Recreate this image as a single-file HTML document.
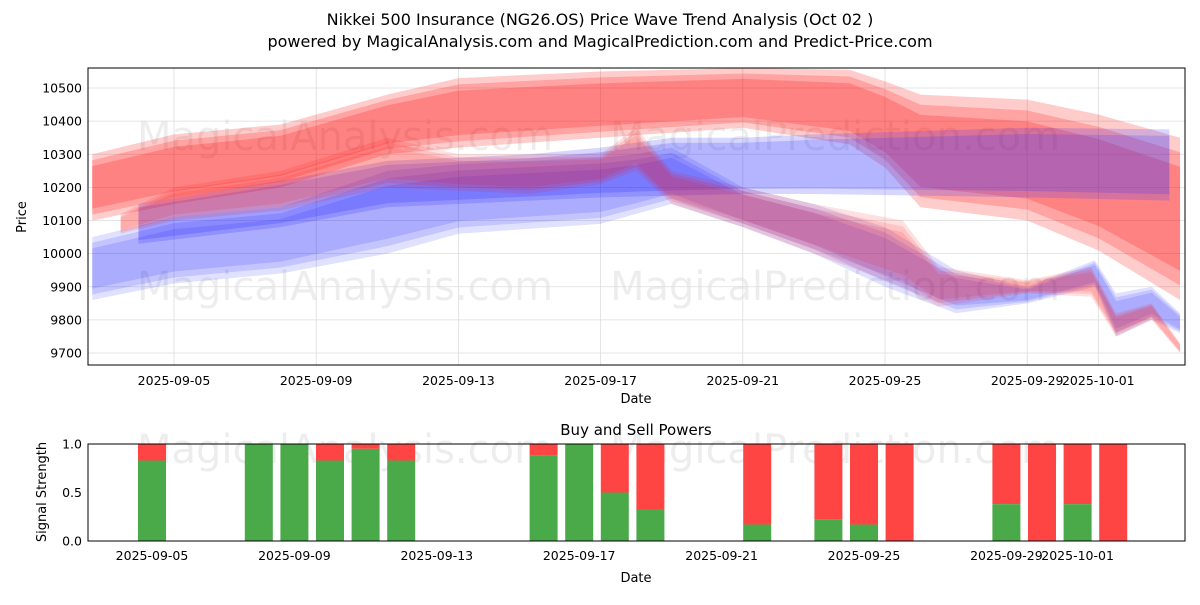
<!DOCTYPE html>
<html><head><meta charset="utf-8"><style>
body{margin:0;background:#fff;font-family:"Liberation Sans","DejaVu Sans",sans-serif;}
svg text{font-family:"DejaVu Sans","Liberation Sans",sans-serif;}
</style></head><body>
<svg id="chart" width="1200" height="600" viewBox="0 0 1200 600">
<text x="600" y="25" text-anchor="middle" font-size="16">Nikkei 500 Insurance (NG26.OS) Price Wave Trend Analysis (Oct 02 )</text>
<text x="600" y="47" text-anchor="middle" font-size="16">powered by MagicalAnalysis.com and MagicalPrediction.com and Predict-Price.com</text>
<g id="topPanel"></g>
<g id="botPanel"></g>
</svg>
<script>
// ---- data ----
const priceTicks=[9700,9800,9900,10000,10100,10200,10300,10400,10500];
const dateTicks=["2025-09-05","2025-09-09","2025-09-13","2025-09-17","2025-09-21","2025-09-25","2025-09-29","2025-10-01"];
const dateTickDays=[2,6,10,14,18,22,26,28];
const bandRedDays=[-0.3,2,5,8,10,14,18,21,22,23,26,28,30.3];
const bandRedUpper=[10300,10360,10390,10480,10530,10550,10560,10555,10520,10480,10465,10420,10350];
const bandRedLower=[10100,10150,10200,10300,10320,10350,10380,10330,10260,10140,10100,10010,9860];
const bandPurpleDays=[1,5,8,12,14,16,18,20,26,30];
const bandPurpleUpper=[10150,10220,10280,10300,10320,10350,10350,10360,10380,10375];
const bandPurpleLower=[10030,10080,10140,10160,10170,10175,10180,10180,10170,10160];
const bandBlueDays=[-0.3,2,5,8,10,14,15,16,18,20,22,24,26,27.9,28.5,29.5,30.3];
const bandBlueUpper=[10050,10110,10140,10250,10270,10290,10300,10320,10200,10150,10080,9950,9900,9980,9880,9900,9820];
const bandBlueLower=[9860,9910,9940,10000,10060,10090,10120,10150,10080,10000,9900,9820,9850,9900,9750,9800,9760];
const bandRed2Days=[0.5,2,5,8,10,12,14,15,16,18,20,22.5,23.5,26,27.8,28.5,29.5,30.3];
const bandRed2Upper=[10120,10200,10250,10350,10300,10300,10300,10380,10250,10200,10150,10100,9960,9920,9960,9820,9850,9730];
const bandRed2Lower=[10060,10100,10130,10200,10190,10180,10210,10250,10150,10080,10000,9900,9840,9880,9870,9750,9800,9700];
const barDays=[2,5,6,7,8,9,13,14,15,16,19,21,22,23,26,27,28,29];
const buyPower=[0.83,1,1,0.83,0.95,0.83,0.88,1,0.5,0.33,0.17,0.22,0.17,0,0.38,0,0.38,0];
const sigTicks=[0,0.5,1.0];

const NS="http://www.w3.org/2000/svg";
function mk(t,a,p){const e=document.createElementNS(NS,t);for(const k in a)e.setAttribute(k,a[k]);p.appendChild(e);return e;}
const topG=document.getElementById('topPanel'),botG=document.getElementById('botPanel');
const TX0=88,TX1=1185,TY0=68,TY1=365;
const xT=d=>174+(d-2)*35.55;
const yT=v=>88+(10500-v)*(353-88)/800;
const BX0=88,BX1=1185,BY0=444,BY1=541;
const xB=d=>152+(d-2)*35.6;
const yB=v=>BY1-v*(BY1-BY0);

[[345,150],[835,150],[345,300],[835,300]].forEach((p,i)=>{const t=mk('text',{x:p[0],y:p[1],'text-anchor':'middle','font-size':40,fill:'#000','fill-opacity':0.07},topG);t.textContent=i%2?'MagicalPrediction.com':'MagicalAnalysis.com';

});
priceTicks.forEach(v=>{const l=mk('line',{x1:TX0,x2:TX1,y1:yT(v),y2:yT(v),stroke:'#ddd','stroke-width':0.8},topG);


const t=mk('text',{x:TX0-6,y:yT(v)+4.5,'text-anchor':'end','font-size':12.5},topG);t.textContent=v;

});
dateTickDays.forEach((d,i)=>{const l=mk('line',{x1:xT(d),x2:xT(d),y1:TY0,y2:TY1,stroke:'#ddd','stroke-width':0.8},topG);


const t=mk('text',{x:xT(d),y:TY1+20,'text-anchor':'middle','font-size':12.5},topG);t.textContent=dateTicks[i];

});
function band(days,up,lo,color,op,name,layers){
 for(let k=0;k<layers;k++){const shrink=k*0.18;
 const pts=[];days.forEach((d,i)=>{const m=(up[i]+lo[i])/2,h=(up[i]-lo[i])/2*(1-shrink);pts.push(xT(d)+','+yT(m+h));});
 for(let i=days.length-1;i>=0;i--){const m=(up[i]+lo[i])/2,h=(up[i]-lo[i])/2*(1-shrink);pts.push(xT(days[i])+','+yT(m-h));}
 const p=mk('polygon',{points:pts.join(' '),fill:color,'fill-opacity':op},topG);
 
 }
}
band(bandRedDays,bandRedUpper,bandRedLower,'#ff0000',0.2,'red-wave-band',3);
band(bandPurpleDays,bandPurpleUpper,bandPurpleLower,'#3333ff',0.2,'blue-flat-band',2);
band(bandBlueDays,bandBlueUpper,bandBlueLower,'#0000ff',0.12,'blue-wave-band',3);
band(bandRed2Days,bandRed2Upper,bandRed2Lower,'#ff0000',0.12,'red-trend-band',3);
mk('rect',{x:TX0,y:TY0,width:TX1-TX0,height:TY1-TY0,fill:'none',stroke:'#000','stroke-width':1},topG);
let t=mk('text',{x:636,y:403,'text-anchor':'middle','font-size':13},topG);t.textContent='Date';

t=mk('text',{x:26,y:217,'text-anchor':'middle','font-size':13,transform:'rotate(-90 26 217)'},topG);t.textContent='Price';


[[345,463],[835,463]].forEach((p,i)=>{const w=mk('text',{x:p[0],y:p[1],'text-anchor':'middle','font-size':40,fill:'#000','fill-opacity':0.07},botG);w.textContent=i?'MagicalPrediction.com':'MagicalAnalysis.com';

});
t=mk('text',{x:636,y:435,'text-anchor':'middle','font-size':15},botG);t.textContent='Buy and Sell Powers';

barDays.forEach((d,i)=>{const x=xB(d)-14;
 const s=mk('rect',{x:x,y:yB(1),width:28,height:yB(buyPower[i])-yB(1),fill:'#ff4444'},botG);
 
 
 const g=mk('rect',{x:x,y:yB(buyPower[i]),width:28,height:yB(0)-yB(buyPower[i]),fill:'#4aaa4a'},botG);
 
 });
sigTicks.forEach(v=>{const s=mk('text',{x:BX0-6,y:yB(v)+4.5,'text-anchor':'end','font-size':12.5},botG);s.textContent=v.toFixed(1);
});
dateTickDays.forEach((d,i)=>{const s=mk('text',{x:xB(d),y:BY1+19,'text-anchor':'middle','font-size':12.5},botG);s.textContent=dateTicks[i];
});
mk('rect',{x:BX0,y:BY0,width:BX1-BX0,height:BY1-BY0,fill:'none',stroke:'#000','stroke-width':1},botG);
t=mk('text',{x:636,y:582,'text-anchor':'middle','font-size':13},botG);t.textContent='Date';

t=mk('text',{x:46,y:492,'text-anchor':'middle','font-size':13,transform:'rotate(-90 46 492)'},botG);t.textContent='Signal Strength';

</script>
</body></html>
